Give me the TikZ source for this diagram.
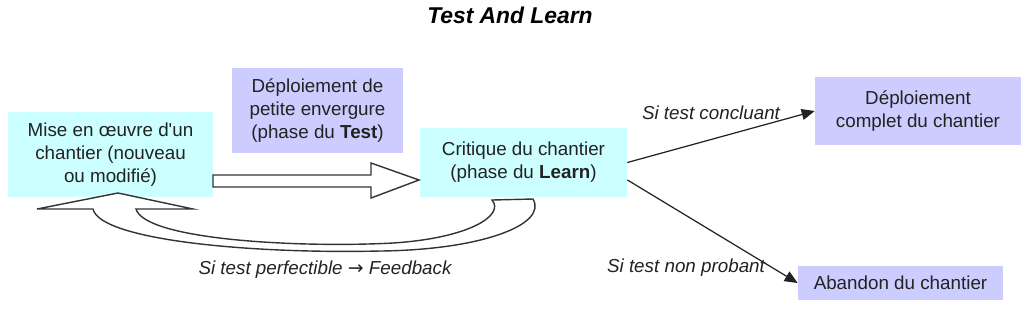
\documentclass[tikz,border=0pt]{standalone}
\usepackage{fontspec}
\setmainfont{Liberation Sans}
\newfontfamily\arrowfont{DejaVu Sans}
\usetikzlibrary{arrows.meta,positioning,calc}
\definecolor{cyanbox}{HTML}{CCFFFF}
\definecolor{lilacbox}{HTML}{CCCCFF}
\definecolor{inkgray}{HTML}{222222}

\begin{document}
\begin{tikzpicture}[x=0.02cm,y=-0.02cm,>={Triangle[length=2.6mm,width=2.2mm]},
  box/.style={align=center,inner sep=0pt,text=inkgray,font=\fontsize{10.7}{13}\selectfont},
  cbox/.style={box,fill=cyanbox},
  lbox/.style={box,fill=lilacbox},
  cond/.style={font=\fontsize{10.7}{13}\selectfont\itshape,text=inkgray},
  blockarrow/.style={draw=black!80,fill=white,line width=0.8pt,line join=miter}]
  \useasboundingbox (0,0) rectangle (1024,316);
  \node[font=\fontsize{13}{15}\selectfont\bfseries\itshape] (title) at (510,15) {Test And Learn};
  % boites
  \node[cbox,minimum width=4.1cm,minimum height=1.7cm] (mise) at (110.5,154.5)
    {Mise en œuvre d\textquotesingle un\\chantier (nouveau\\ou modifié)};
  \node[lbox,minimum width=3.42cm,minimum height=1.7cm] (petite) at (317.5,110.5)
    {Déploiement de\\petite envergure\\(phase du \textbf{Test})};
  \node[cbox,minimum width=4.14cm,minimum height=1.38cm] (critique) at (523.5,162.5)
    {Critique du chantier\\(phase du \textbf{Learn})};
  \node[lbox,minimum width=4.12cm,minimum height=1.36cm] (complet) at (918,111)
    {Déploiement\\complet du chantier};
  \node[lbox,minimum width=4.1cm,minimum height=0.68cm] (abandon) at (900.5,283)
    {Abandon du chantier};
  % fleches pleines
  \draw[blockarrow] (213,175) -- (371,175) -- (371,163) -- (419,180) -- (371,198)
    -- (371,187) -- (213,187) -- cycle;
  \draw[blockarrow] (118,193) -- (193,209) -- (136,209)
    .. controls (145,240) and (300,248) .. (393,243)
    .. controls (470,238) and (505,215) .. (492,200) -- (533,199)
    .. controls (548,225) and (480,250) .. (380,251)
    .. controls (250,254) and (100,240) .. (93,209) -- (37,209) -- cycle;
  % issues
  \draw[->,inkgray,line width=0.7pt] (critique.east) -- (complet.west);
  \draw[->,inkgray,line width=0.7pt] ($(critique.east)!0.5!(critique.south east)$) -- (abandon.west);
  \node[cond] (concl) at (711,113) {Si test concluant};
  \node[cond] (nonpro) at (686,268) {Si test non probant};
  \node[cond] (perf) at (325,270) {Si test perfectible {\arrowfont\upshape →} Feedback};
\end{tikzpicture}
\end{document}
